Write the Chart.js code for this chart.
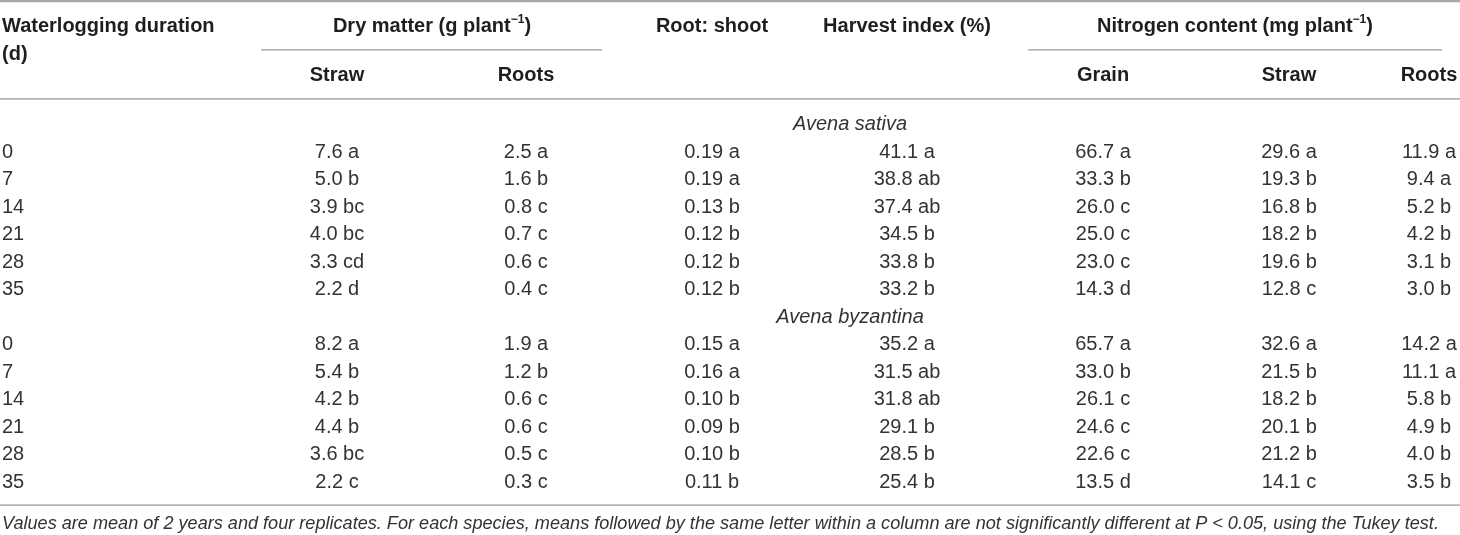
<!DOCTYPE html>
<html>
<head>
<meta charset="utf-8">
<script src="https://cdn.jsdelivr.net/npm/chart.js@4.4.0/dist/chart.umd.min.js"></script>
<style>
html, body { margin: 0; padding: 0; background: #fff; }
#wrap { width: 1460px; height: 535px; }
</style>
</head>
<body>
<div id="wrap"><canvas id="tableChart" width="1460" height="535"></canvas></div>
<script>
// Waterlogging table - drawn on a scatter chart with hidden axes

const durations = [0, 7, 14, 21, 28, 35];
const speciesNames = ['Avena sativa', 'Avena byzantina'];
const subHeads = ['Straw', 'Roots', 'Root: shoot', 'Harvest index (%)', 'Grain', 'Straw', 'Roots'];
const footnote = 'Values are mean of 2 years and four replicates. For each species, means followed by the same letter within a column are not significantly different at P < 0.05, using the Tukey test.';

// Avena sativa
const sativaDmStraw = [7.6, 5.0, 3.9, 4.0, 3.3, 2.2];
const sativaDmStrawSig = ['a', 'b', 'bc', 'bc', 'cd', 'd'];
const sativaDmRoots = [2.5, 1.6, 0.8, 0.7, 0.6, 0.4];
const sativaDmRootsSig = ['a', 'b', 'c', 'c', 'c', 'c'];
const sativaRootShoot = [0.19, 0.19, 0.13, 0.12, 0.12, 0.12];
const sativaRootShootSig = ['a', 'a', 'b', 'b', 'b', 'b'];
const sativaHarvest = [41.1, 38.8, 37.4, 34.5, 33.8, 33.2];
const sativaHarvestSig = ['a', 'ab', 'ab', 'b', 'b', 'b'];
const sativaNGrain = [66.7, 33.3, 26.0, 25.0, 23.0, 14.3];
const sativaNGrainSig = ['a', 'b', 'c', 'c', 'c', 'd'];
const sativaNStraw = [29.6, 19.3, 16.8, 18.2, 19.6, 12.8];
const sativaNStrawSig = ['a', 'b', 'b', 'b', 'b', 'c'];
const sativaNRoots = [11.9, 9.4, 5.2, 4.2, 3.1, 3.0];
const sativaNRootsSig = ['a', 'a', 'b', 'b', 'b', 'b'];

// Avena byzantina
const byzDmStraw = [8.2, 5.4, 4.2, 4.4, 3.6, 2.2];
const byzDmStrawSig = ['a', 'b', 'b', 'b', 'bc', 'c'];
const byzDmRoots = [1.9, 1.2, 0.6, 0.6, 0.5, 0.3];
const byzDmRootsSig = ['a', 'b', 'c', 'c', 'c', 'c'];
const byzRootShoot = [0.15, 0.16, 0.10, 0.09, 0.10, 0.11];
const byzRootShootSig = ['a', 'a', 'b', 'b', 'b', 'b'];
const byzHarvest = [35.2, 31.5, 31.8, 29.1, 28.5, 25.4];
const byzHarvestSig = ['a', 'ab', 'ab', 'b', 'b', 'b'];
const byzNGrain = [65.7, 33.0, 26.1, 24.6, 22.6, 13.5];
const byzNGrainSig = ['a', 'b', 'c', 'c', 'c', 'd'];
const byzNStraw = [32.6, 21.5, 18.2, 20.1, 21.2, 14.1];
const byzNStrawSig = ['a', 'b', 'b', 'b', 'b', 'c'];
const byzNRoots = [14.2, 11.1, 5.8, 4.9, 4.0, 3.5];
const byzNRootsSig = ['a', 'a', 'b', 'b', 'b', 'b'];

// layout (x in px, y in row units)
const colX = [337, 526, 712, 907, 1103, 1289, 1429];
const durX = 2;
const speciesX = 850;
const FONT = '"Liberation Sans", Arial, Helvetica, sans-serif';

const columns = [
    [sativaDmStraw, sativaDmStrawSig, byzDmStraw, byzDmStrawSig, 1],
    [sativaDmRoots, sativaDmRootsSig, byzDmRoots, byzDmRootsSig, 1],
    [sativaRootShoot, sativaRootShootSig, byzRootShoot, byzRootShootSig, 2],
    [sativaHarvest, sativaHarvestSig, byzHarvest, byzHarvestSig, 1],
    [sativaNGrain, sativaNGrainSig, byzNGrain, byzNGrainSig, 1],
    [sativaNStraw, sativaNStrawSig, byzNStraw, byzNStrawSig, 1],
    [sativaNRoots, sativaNRootsSig, byzNRoots, byzNRootsSig, 1]
];

function cellDataset(points, texts, align, font, color) {
    return {
        data: points,
        cellText: texts,
        textAlign: align,
        textFont: font,
        textColor: color,
        pointRadius: 0,
        pointHoverRadius: 0
    };
}

const datasets = [];

// duration column
const durPoints = [], durTexts = [];
[0, 1].forEach(s => {
    durations.forEach((d, i) => {
        durPoints.push({ x: durX, y: s * 7 + 1 + i });
        durTexts.push(String(d));
    });
});
datasets.push(cellDataset(durPoints, durTexts, 'left', '20px ' + FONT, '#333'));

// value columns
columns.forEach((col, c) => {
    const pts = [], txt = [];
    [0, 1].forEach(s => {
        const vals = col[s * 2], sig = col[s * 2 + 1];
        vals.forEach((v, i) => {
            pts.push({ x: colX[c], y: s * 7 + 1 + i });
            txt.push(v.toFixed(col[4]) + ' ' + sig[i]);
        });
    });
    datasets.push(cellDataset(pts, txt, 'center', '20px ' + FONT, '#333'));
});

// species rows
datasets.push(cellDataset(
    speciesNames.map((n, s) => ({ x: speciesX, y: s * 7 })),
    speciesNames, 'center', 'italic 20px ' + FONT, '#333'));

function drawRich(ctx, parts, x, y, align, size) {
    let total = 0;
    parts.forEach(p => {
        ctx.font = 'bold ' + (p.sup ? Math.round(size * 0.6) : size) + 'px ' + FONT;
        p.w = ctx.measureText(p.t).width;
        total += p.w;
    });
    let xx = align === 'center' ? x - total / 2 : x;
    ctx.textAlign = 'left';
    parts.forEach(p => {
        ctx.font = 'bold ' + (p.sup ? Math.round(size * 0.6) : size) + 'px ' + FONT;
        ctx.fillText(p.t, xx, p.sup ? y - size * 0.32 : y);
        xx += p.w;
    });
}

const tablePlugin = {
    id: 'tableText',
    beforeDraw(chart) {
        const ctx = chart.ctx;
        ctx.save();
        ctx.fillStyle = '#fff';
        ctx.fillRect(0, 0, chart.width, chart.height);
        ctx.restore();
    },
    afterDatasetsDraw(chart) {
        const { ctx, scales: { x, y } } = chart;
        const px = v => x.getPixelForValue(v);
        const py = v => y.getPixelForValue(v);

        ctx.save();

        // rules
        function rule(x0, x1, r, w, color) {
            ctx.beginPath();
            ctx.strokeStyle = color;
            ctx.lineWidth = w;
            ctx.moveTo(px(x0), py(r));
            ctx.lineTo(px(x1), py(r));
            ctx.stroke();
        }
        rule(0, 1460, -4.49, 2.5, '#a9a9a9');
        rule(261, 602, -2.71, 1.2, '#9a9a9a');
        rule(1028, 1442, -2.71, 1.2, '#9a9a9a');
        rule(0, 1460, -0.93, 1.6, '#b3b3b3');
        rule(0, 1460, 13.84, 1.6, '#b3b3b3');

        // header
        ctx.fillStyle = '#1e1e1e';
        ctx.textBaseline = 'middle';
        const hy = py(-3.58);
        drawRich(ctx, [{ t: 'Waterlogging duration' }], px(2), hy, 'left', 20);
        drawRich(ctx, [{ t: '(d)' }], px(2), py(-2.53), 'left', 20);
        drawRich(ctx, [{ t: 'Dry matter (g plant' }, { t: '\u22121', sup: true }, { t: ')' }], px(432), hy, 'center', 20);
        drawRich(ctx, [{ t: subHeads[2] }], px(colX[2]), hy, 'center', 20);
        drawRich(ctx, [{ t: subHeads[3] }], px(colX[3]), hy, 'center', 20);
        drawRich(ctx, [{ t: 'Nitrogen content (mg plant' }, { t: '\u22121', sup: true }, { t: ')' }], px(1235), hy, 'center', 20);
        [0, 1, 4, 5, 6].forEach(c => {
            drawRich(ctx, [{ t: subHeads[c] }], px(colX[c]), py(-1.8), 'center', 20);
        });

        // cells
        chart.data.datasets.forEach((ds, i) => {
            const meta = chart.getDatasetMeta(i);
            ctx.font = ds.textFont;
            ctx.fillStyle = ds.textColor;
            ctx.textAlign = ds.textAlign;
            ctx.textBaseline = 'middle';
            meta.data.forEach((el, j) => {
                ctx.fillText(ds.cellText[j], el.x, el.y);
            });
        });

        // footnote, fitted to its width
        ctx.font = 'italic 20px ' + FONT;
        const fw = ctx.measureText(footnote).width;
        const fs = 20 * 1437 / fw;
        ctx.font = 'italic ' + fs.toFixed(2) + 'px ' + FONT;
        ctx.fillStyle = '#333';
        ctx.textAlign = 'left';
        ctx.fillText(footnote, px(2), py(14.53));

        ctx.restore();
    }
};

const ctx = document.getElementById('tableChart').getContext('2d');
const tableChart = new Chart(ctx, {
    type: 'scatter',
    data: { datasets: datasets },
    options: {
        responsive: false,
        animation: false,
        events: [],
        layout: { padding: 0 },
        plugins: {
            legend: { display: false },
            tooltip: { enabled: false }
        },
        scales: {
            x: { type: 'linear', display: false, min: 0, max: 1460 },
            y: { type: 'linear', display: false, min: -4.527, max: 14.927, reverse: true }
        }
    },
    plugins: [tablePlugin]
});
</script>
</body>
</html>
